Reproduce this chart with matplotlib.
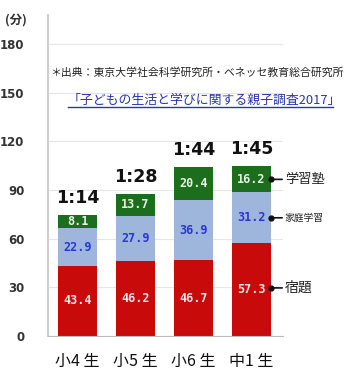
import matplotlib
matplotlib.use('Agg')
import matplotlib.pyplot as plt
from matplotlib.lines import Line2D
import numpy as np

plt.rcParams['font.family'] = ['Noto Sans CJK JP', 'DejaVu Sans']

# データ（分）
grades = ['小4 生', '小5 生', '小6 生', '中1 生']
homework = [43.4, 46.2, 46.7, 57.3]      # 宿題
home_study = [22.9, 27.9, 36.9, 31.2]    # 家庭学習
cram = [8.1, 13.7, 20.4, 16.2]           # 学習塾
totals = ['1:14', '1:28', '1:44', '1:45']
yticks = [0, 30, 60, 90, 120, 150, 180]

RED = '#c80a0a'
BLUE = '#9fb6dc'
GREEN = '#1c6e1c'

fig = plt.figure(figsize=(3.44, 3.72), dpi=100)
ax = fig.add_axes([0.1395, 0.0968, 0.683, 0.863])

x = np.arange(len(grades))
w = 0.67
hw = np.array(homework)
hs = np.array(home_study)
cr = np.array(cram)

ax.bar(x, hw, w, color=RED, zorder=2)
ax.bar(x, hs, w, bottom=hw, color=BLUE, zorder=2)
ax.bar(x, cr, w, bottom=hw + hs, color=GREEN, zorder=2)

num_font = dict(family='DejaVu Sans Mono', fontweight='bold', fontsize=8.5,
                ha='center', va='center', zorder=3)
for i in x:
    ax.text(i, hw[i] / 2, f'{hw[i]:.1f}', color='#f2e6e6', **num_font)
    ax.text(i, hw[i] + hs[i] / 2, f'{hs[i]:.1f}', color='#2a35d8', **num_font)
    ax.text(i, hw[i] + hs[i] + cr[i] / 2, f'{cr[i]:.1f}', color='#e8f0e8', **num_font)
    ax.text(i, hw[i] + hs[i] + cr[i] + 5, totals[i], ha='center', va='bottom',
            fontsize=12.5, fontweight='bold', family='DejaVu Sans', color='#111111')

# 右側の凡例ラベル
last = len(grades) - 1
edge = last + w / 2
for y, label, size in [(hw[last] / 2 + 1, '宿題', 10),
                       (hw[last] + hs[last] / 2, '家庭学習', 7),
                       (hw[last] + hs[last] + cr[last] / 2, '学習塾', 9.5)]:
    ax.annotate(label, xy=(edge, y), xytext=(10, 0), textcoords='offset points',
                va='center', ha='left', fontsize=size, color='#222222',
                arrowprops=dict(arrowstyle='-', color='#111111', lw=1.2,
                                shrinkA=0, shrinkB=0),
                annotation_clip=False)
    ax.plot([edge], [y], 'o', color='#111111', ms=3.5, clip_on=False, zorder=4)

ax.set_xlim(-0.51, 3.54)
ax.set_ylim(0, 198)
ax.set_yticks(yticks)
ax.set_yticklabels([str(t) for t in yticks], fontsize=8.5, fontweight='bold',
                   color='#333333', family='DejaVu Sans')
ax.set_xticks(x)
ax.set_xticklabels(grades, fontsize=11.5, color='#111111')
ax.tick_params(axis='both', length=0)
ax.tick_params(axis='y', pad=17)
ax.tick_params(axis='x', pad=12)
ax.grid(axis='y', color='#e6e6e6', lw=0.8, zorder=0)
for s in ['top', 'right']:
    ax.spines[s].set_visible(False)
ax.spines['left'].set_color('#cfcfcf')
ax.spines['left'].set_linewidth(1.5)
ax.spines['bottom'].set_color('#bbbbbb')

fig.text(0.015, 0.945, '(分)', fontsize=9, fontweight='bold', color='#333333',
         va='center')
fig.text(0.145, 0.804, '＊出典：東京大学社会科学研究所・ベネッセ教育総合研究所',
         fontsize=7.8, color='#222222', va='center')
fig.text(0.198, 0.731, '「子どもの生活と学びに関する親子調査2017」',
         fontsize=9.3, color='#2a35b0', va='center')
fig.add_artist(Line2D([0.198, 0.968], [0.712, 0.712], color='#2a35b0', lw=1))

fig.savefig('out.png', dpi=100)
